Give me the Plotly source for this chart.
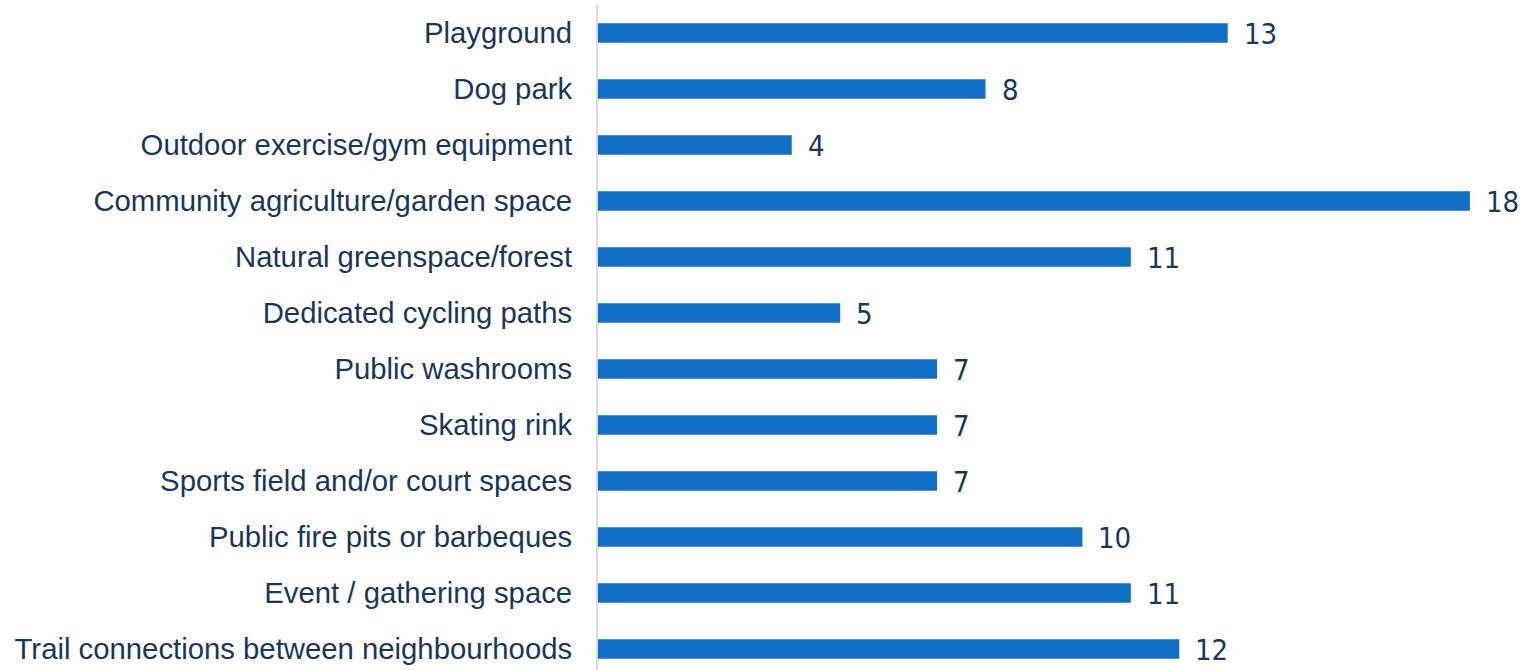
import plotly.graph_objects as go

# Amenity preferences (number of responses)
categories = [
    "Playground",
    "Dog park",
    "Outdoor exercise/gym equipment",
    "Community agriculture/garden space",
    "Natural greenspace/forest",
    "Dedicated cycling paths",
    "Public washrooms",
    "Skating rink",
    "Sports field and/or court spaces",
    "Public fire pits or barbeques",
    "Event / gathering space",
    "Trail connections between neighbourhoods",
]
counts = [13, 8, 4, 18, 11, 5, 7, 7, 7, 10, 11, 12]

BAR_COLOR = "#0F6FC6"
TEXT_COLOR = "#17375E"

fig = go.Figure(
    go.Bar(
        x=counts,
        y=categories,
        orientation="h",
        marker=dict(color=BAR_COLOR, line=dict(width=0)),
        width=0.345,
        hoverinfo="x+y",
    )
)

# value labels to the right of each bar
for cat, val in zip(categories, counts):
    fig.add_annotation(
        x=val, y=cat, text=str(val), showarrow=False,
        xanchor="left", yanchor="middle", xshift=14, yshift=-1,
        font=dict(family="Liberation Sans Narrow, Arial Narrow, DejaVu Sans Condensed, sans-serif",
                  size=29, color=TEXT_COLOR),
    )

fig.update_layout(
    width=1528, height=670,
    margin=dict(l=598, r=0, t=5, b=0),
    paper_bgcolor="white", plot_bgcolor="white",
    showlegend=False,
    font=dict(family="Liberation Sans, Arial, sans-serif", color=TEXT_COLOR),
    xaxis=dict(range=[0, 19.2], visible=False, showgrid=False, zeroline=False),
    yaxis=dict(
        categoryorder="array", categoryarray=categories,
        range=[11.375, -0.5],
        showline=True, linecolor="#D9D9D9", linewidth=2,
        showgrid=False, zeroline=False, ticks="",
        ticklabelstandoff=18,
        tickfont=dict(size=29.3, color=TEXT_COLOR, family="Liberation Sans, Arial, sans-serif"),
    ),
)

fig.write_html("out.html")
